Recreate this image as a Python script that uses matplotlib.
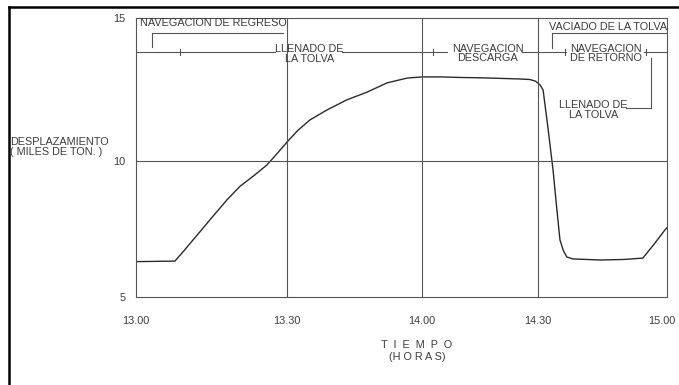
import numpy as np
import matplotlib
matplotlib.use("Agg")
import matplotlib.pyplot as plt
import matplotlib.transforms as mtransforms
from matplotlib.lines import Line2D

plt.rcParams['font.family'] = ['Liberation Sans', 'DejaVu Sans']

# minutes after 13.00 and displacement (thousands of tons)
minutes = [0, 7.8, 9.5, 11.4, 13.0, 14.8, 16.5, 18.1, 20.7, 23.5, 26.0, 28.0, 30,
           32.5, 35.1, 38.9, 43.3, 47.8, 52.2, 56.7, 60.2, 65, 70, 75, 80, 85,
           88.0, 89.5, 90.6, 91.3, 92.4, 93.6, 94.5, 95.2, 96.0, 96.8, 98.2, 104.5,
           110, 114.4, 116.8, 119.5, 120]
displacement = [6.3, 6.32, 6.68, 7.1, 7.45, 7.85, 8.22, 8.57, 9.07, 9.47, 9.85, 10.25,
                10.66, 11.08, 11.43, 11.78, 12.13, 12.4, 12.72, 12.89, 12.93, 12.93,
                12.91, 12.9, 12.88, 12.86, 12.84, 12.78, 12.65, 12.47, 11.18, 9.67,
                8.2, 7.1, 6.7, 6.47, 6.4, 6.36, 6.38, 6.43, 6.9, 7.46, 7.55]

tick_minutes = [0, 30, 60, 90, 120]
tick_labels = ['13.00', '13.30', '14.00', '14.30', '15.00']
# the scanned grid is not evenly spaced: where each half hour sits (pixels)
tick_px = [135.5, 287, 422, 537.5, 667]
y_ticks = [5, 10, 15]
y_px = [-297, -161, -17.5]

ink = '#3c3c3c'
fs = 7.8

fig = plt.figure(figsize=(6.79, 3.85), dpi=100)
ax = fig.add_axes([135.5 / 679, 1 - 297 / 385, (667 - 135.5) / 679, (297 - 17.5) / 385])

ax.set_xscale('function', functions=(lambda v: np.interp(v, tick_minutes, tick_px),
                                     lambda p: np.interp(p, tick_px, tick_minutes)))
ax.set_yscale('function', functions=(lambda v: np.interp(v, y_ticks, y_px),
                                     lambda p: np.interp(p, y_px, y_ticks)))
ax.set_xlim(0, 120)
ax.set_ylim(5, 15)

ax.plot(minutes, displacement, color='#2a2a2a', lw=1.0)

for t in tick_minutes[1:-1]:
    ax.axvline(t, color='#555555', lw=0.8)
ax.axhline(10, color='#555555', lw=0.8)
for s in ax.spines.values():
    s.set_color('#555555')
    s.set_linewidth(0.8)

ax.set_xticks(tick_minutes)
ax.set_xticklabels(tick_labels)
ax.set_yticks(y_ticks)
ax.tick_params(length=0, labelsize=fs, colors=ink, pad=7)
ax.tick_params(axis='x', pad=14)
# last label sits a little inside the edge in the scan
last = ax.get_xticklabels()[-1]
last.set_transform(last.get_transform() +
                   mtransforms.ScaledTranslation(-5 / 100, 0, fig.dpi_scale_trans))

# activity line across the top
y_line = 13.8
line_kw = dict(color='#555555', lw=0.8)
for a, b in [(0, 27.6), (42.2, 66.5), (86, 96.6), (114.6, 120)]:
    ax.plot([a, b], [y_line, y_line], **line_kw)
for t in [8.8, 62.8, 96.4, 115.1]:
    ax.plot([t, t], [y_line - 0.1, y_line + 0.1], **line_kw)

txt = dict(color=ink, fontsize=fs, ha='center', va='center', linespacing=0.95)
ax.text(35.0, 13.72, 'LLENADO DE\nLA TOLVA', **txt)
ax.text(77.0, 13.75, 'NAVEGACION\nDESCARGA', **txt)
ax.text(105.9, 13.75, 'NAVEGACION\nDE RETORNO', **txt)
ax.text(102.9, 11.78, 'LLENADO DE\nLA TOLVA', **txt)

ax.text(0.9, 14.8, 'NAVEGACION DE REGRESO', color=ink, fontsize=fs, ha='left', va='center')
ax.plot([3.3, 29.2], [14.47, 14.47], **line_kw)
ax.plot([3.3, 3.3], [14.47, 13.97], **line_kw)

ax.text(120, 14.67, 'VACIADO DE LA TOLVA', color=ink, fontsize=fs, ha='right', va='center')
ax.plot([93.4, 120], [14.45, 14.45], **line_kw)
ax.plot([93.4, 93.4], [14.45, 13.94], **line_kw)

ax.plot([110.6, 116.3, 116.3], [11.85, 11.85, 13.59], **line_kw)

# axis titles
fig.text(10 / 679, 1 - 142 / 385, 'DESPLAZAMIENTO', color=ink, fontsize=fs, ha='left', va='center')
fig.text(10 / 679, 1 - 152 / 385, '( MILES DE TON. )', color=ink, fontsize=fs, ha='left', va='center')
fig.text(417 / 679, 1 - 345 / 385, 'T  I  E  M  P  O', color=ink, fontsize=fs, ha='center', va='center')
fig.text(417 / 679, 1 - 357 / 385, '(H O R A S)', color=ink, fontsize=fs, ha='center', va='center')

# scanned page border
fig.add_artist(Line2D([9 / 679, 1], [1 - 7 / 385, 1 - 7 / 385], color='black', lw=1.8))
fig.add_artist(Line2D([9 / 679, 9 / 679], [0, 1 - 7 / 385], color='black', lw=1.8))

fig.savefig('out.png', dpi=100)
